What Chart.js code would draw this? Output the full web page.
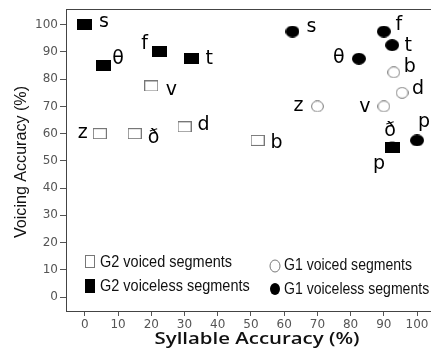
<!DOCTYPE html>
<html><head><meta charset="utf-8">
<script src="https://cdn.jsdelivr.net/npm/chart.js@4/dist/chart.umd.min.js"></script>
<style>
html,body{margin:0;padding:0;overflow:hidden;background:#fff;width:431px;height:348px}
canvas{display:block}
</style></head><body><canvas id="c" width="431" height="348" style="width:431px;height:348px"></canvas>
<script>
// ---- data ----
const xTicks=[0,10,20,30,40,50,60,70,80,90,100];
const yTicks=[0,10,20,30,40,50,60,70,80,90,100];
const seriesNames=['G2 voiced segments','G2 voiceless segments','G1 voiced segments','G1 voiceless segments'];
const g2VoicedLabels=['z','ð','v','d','b'];
const g2VoicedX=[4.5,15,20,30,52];
const g2VoicedY=[60,60,77.5,62.5,57.5];
const g2VoicelessLabels=['s','θ','f','t','p'];
const g2VoicelessX=[0,5.5,22.5,32,92.5];
const g2VoicelessY=[100,85,90,87.5,55];
const g1VoicedLabels=['z','v','b','d','ð'];
const g1VoicedX=[70,90,93,95.5,92.5];
const g1VoicedY=[70,70,82.5,75,55];
const g1VoicelessLabels=['s','θ','f','t','p'];
const g1VoicelessX=[62.5,82.5,90,92.5,100];
const g1VoicelessY=[97.5,87.5,97.5,92.5,57.5];

// ---- label placement (pixel offsets, style only) ----
const labelOffsets=[
  [[-17,-1],[19,4],[20,4],[19,-2],[19,3]],
  [[19,-3],[15,-6],[-15,-8],[18,0],[-13,17]],
  [[-19,0],[-19,1],[16,-5],[16,-4],[-2,-16]],
  [[19,-4],[-20,-1],[15,-6],[16,1],[7,-18]]
];

function mk(w,h,draw){const c=document.createElement('canvas');c.width=w;c.height=h;draw(c.getContext('2d'),w,h);return c;}
const sqFilled=mk(15,11,(g,w,h)=>{g.fillStyle='#000';g.fillRect(0,0,w,h);});
const sqOpen=mk(14,11,(g,w,h)=>{g.fillStyle='#fff';g.fillRect(0,0,w,h);g.strokeStyle='#777';g.lineWidth=1;g.strokeRect(0.5,0.5,w-1,h-1);});
const ciFilled=mk(14,12,(g,w,h)=>{g.fillStyle='#000';g.beginPath();g.ellipse(w/2,h/2,w/2,h/2,0,0,Math.PI*2);g.fill();});
const ciOpen=mk(13,12,(g,w,h)=>{g.fillStyle='#fff';g.strokeStyle='#777';g.lineWidth=1;g.beginPath();g.ellipse(w/2,h/2,w/2-0.6,h/2-0.6,0,0,Math.PI*2);g.fill();g.stroke();});

const zip=(xs,ys)=>xs.map((x,i)=>({x:x,y:ys[i]}));
const labelSets=[g2VoicedLabels,g2VoicelessLabels,g1VoicedLabels,g1VoicelessLabels];

const pointLabels={
  id:'pointLabels',
  afterDatasetsDraw(chart){
    const ctx=chart.ctx;ctx.save();
    ctx.fillStyle='#000';ctx.font='19px "DejaVu Sans"';ctx.textAlign='center';ctx.textBaseline='middle';
    chart.data.datasets.forEach((ds,di)=>{
      const meta=chart.getDatasetMeta(di);const li=ds.labelIndex;
      meta.data.forEach((pt,i)=>{
        const o=labelOffsets[li][i];
        ctx.fillText(labelSets[li][i],pt.x+o[0],pt.y+o[1]);
      });
    });
    ctx.restore();
  }
};

function condensed(ctx,text,x,y,scale){ctx.save();ctx.translate(x,y);ctx.scale(scale,1);ctx.fillText(text,0,0);ctx.restore();}

const decor={
  id:'decor',
  afterDraw(chart){
    const ctx=chart.ctx,a=chart.chartArea;ctx.save();
    ctx.strokeStyle='#444';ctx.lineWidth=1;
    ctx.beginPath();ctx.moveTo(a.left,a.top+0.5);ctx.lineTo(chart.width,a.top+0.5);ctx.stroke();
    ctx.beginPath();ctx.moveTo(a.right,a.bottom+0.5);ctx.lineTo(chart.width,a.bottom+0.5);ctx.stroke();
    // legend
    ctx.fillStyle='#fff';ctx.strokeStyle='#777';
    ctx.fillRect(85,255,10,13);ctx.strokeRect(85.5,255.5,9,12);
    ctx.fillStyle='#000';ctx.fillRect(85,279,10,14);
    ctx.beginPath();ctx.ellipse(275,266,5,6,0,0,Math.PI*2);ctx.fillStyle='#fff';ctx.fill();ctx.strokeStyle='#777';ctx.stroke();
    ctx.beginPath();ctx.ellipse(275,289,5,6,0,0,Math.PI*2);ctx.fillStyle='#000';ctx.fill();
    ctx.fillStyle='#111';ctx.font='17px "Liberation Sans"';ctx.textBaseline='middle';ctx.textAlign='left';
    const sc=132/ctx.measureText(seriesNames[0]).width;
    condensed(ctx,seriesNames[0],100,262,sc);
    condensed(ctx,seriesNames[1],100,286,sc);
    ctx.font='16px "Liberation Sans"';
    const sc2=128/ctx.measureText(seriesNames[2]).width;
    condensed(ctx,seriesNames[2],284,266,sc2);
    condensed(ctx,seriesNames[3],284,290,sc2);
    // y title
    ctx.save();ctx.translate(21,162);ctx.rotate(-Math.PI/2);
    ctx.font='17px "Liberation Sans"';ctx.textAlign='center';ctx.fillStyle='#111';
    const t='Voicing Accuracy (%)';const s3=152/ctx.measureText(t).width;
    ctx.scale(s3,1);ctx.fillText(t,0,0);ctx.restore();
    // x title
    ctx.font='600 16px "Open Sans"';ctx.textAlign='center';ctx.fillStyle='#111';
    const xt='Syllable Accuracy (%)';const s4=205/ctx.measureText(xt).width;
    condensed(ctx,xt,257,339,s4);
    ctx.restore();
  }
};

const tickFont={family:'DejaVu Sans',size:12};
new Chart(document.getElementById('c'),{
  type:'scatter',
  data:{datasets:[
    {label:seriesNames[1],labelIndex:1,data:zip(g2VoicelessX,g2VoicelessY),pointStyle:sqFilled,order:1},
    {label:seriesNames[0],labelIndex:0,data:zip(g2VoicedX,g2VoicedY),pointStyle:sqOpen,order:2},
    {label:seriesNames[3],labelIndex:3,data:zip(g1VoicelessX,g1VoicelessY),pointStyle:ciFilled,order:3},
    {label:seriesNames[2],labelIndex:2,data:zip(g1VoicedX,g1VoicedY),pointStyle:ciOpen,order:4}
  ]},
  options:{
    responsive:false,animation:false,devicePixelRatio:1,
    layout:{padding:{top:9,left:0,right:0,bottom:0}},
    plugins:{legend:{display:false},tooltip:{enabled:false}},
    elements:{point:{radius:7}},
    clip:false,
    scales:{
      x:{type:'linear',min:-5.67,max:101.79,
        afterBuildTicks:s=>{s.ticks=xTicks.map(v=>({value:v}));},
        afterFit:s=>{s.height=37;s.paddingLeft=0;s.paddingRight=0;},
        grid:{drawOnChartArea:false,tickLength:5,color:'#555'},
        border:{color:'#444',width:1},
        ticks:{color:'#555',font:tickFont,padding:2,maxRotation:0,autoSkip:false}},
      y:{type:'linear',min:-5.14,max:105.77,
        afterBuildTicks:s=>{s.ticks=yTicks.map(v=>({value:v}));},
        afterFit:s=>{s.width=66;s.paddingTop=0;s.paddingBottom=0;},
        grid:{drawOnChartArea:false,tickLength:6,color:'#555'},
        border:{color:'#444',width:1},
        ticks:{color:'#555',font:tickFont,padding:2,autoSkip:false}}
    }
  },
  plugins:[pointLabels,decor]
});
</script></body></html>
